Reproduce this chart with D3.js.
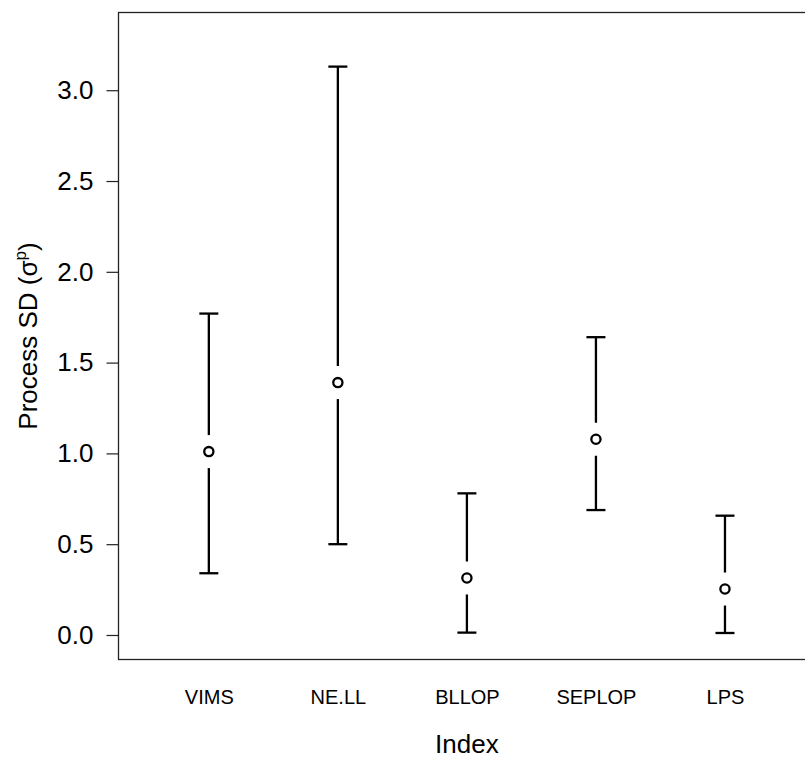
<!DOCTYPE html>
<html>
<head>
<meta charset="utf-8">
<script src="https://cdn.jsdelivr.net/npm/d3@7"></script>
<style>
  html, body { margin: 0; padding: 0; background: #fff; }
  svg { display: block; }
  text { font-family: "Liberation Sans", Arial, sans-serif; fill: #000; }
</style>
</head>
<body>
<svg id="chart" width="805" height="762"></svg>
<script>
const categories = ["VIMS", "NE.LL", "BLLOP", "SEPLOP", "LPS"];
const estimates  = [1.01, 1.39, 0.314, 1.078, 0.253];
const lower      = [0.34, 0.50, 0.013, 0.688, 0.011];
const upper      = [1.77, 3.13, 0.78, 1.64, 0.657];
const yTicks     = [0.0, 0.5, 1.0, 1.5, 2.0, 2.5, 3.0];

const svg = d3.select("#chart");
const mLeft = 118.5, mRight = 815.3, mTop = 12.5, mBottom = 659.5;

const x = d3.scaleLinear().domain([0.3, 5.7]).range([mLeft, mRight]);
const y = d3.scaleLinear().domain([-0.135, 3.428]).range([mBottom, mTop]);

// plot box
svg.append("rect")
  .attr("x", mLeft).attr("y", mTop)
  .attr("width", mRight - mLeft).attr("height", mBottom - mTop)
  .attr("fill", "none").attr("stroke", "#222").attr("stroke-width", 1.3);

// y axis
const yAxis = svg.append("g")
  .attr("transform", `translate(${mLeft},0)`)
  .call(d3.axisLeft(y).tickValues(yTicks).tickFormat(d3.format(".1f")).tickSize(12).tickPadding(13));
yAxis.select(".domain").remove();
yAxis.selectAll(".tick line").attr("stroke", "#222").attr("stroke-width", 1.2);
yAxis.selectAll(".tick text")
  .attr("font-size", 26)
  .attr("font-family", "'Liberation Sans', Arial, sans-serif")
  .attr("fill", "#000");

// x labels (no ticks)
const xAxis = svg.append("g")
  .attr("transform", `translate(0,${mBottom})`)
  .call(d3.axisBottom(x).tickValues(categories.map((d, i) => i + 1))
        .tickFormat((d, i) => categories[i]).tickSize(0).tickPadding(30));
xAxis.select(".domain").remove();
xAxis.selectAll(".tick text")
  .attr("font-size", 20)
  .attr("font-family", "'Liberation Sans', Arial, sans-serif")
  .attr("fill", "#000");

// axis titles
svg.append("text")
  .attr("x", x(3)).attr("y", 753)
  .attr("text-anchor", "middle").attr("font-size", 26)
  .text("Index");

const yt = svg.append("text")
  .attr("transform", `translate(37,${(mTop + mBottom) / 2}) rotate(-90)`)
  .attr("text-anchor", "middle").attr("font-size", 26);
yt.append("tspan").text("Process SD (σ");
yt.append("tspan").attr("font-size", 17).attr("dy", -11).text("p");
yt.append("tspan").attr("dy", 11).text(")");

// error bars
const gap = 16.5, capHalf = 9.5;
const data = categories.map((c, i) => ({ i: i + 1, est: estimates[i], lo: lower[i], hi: upper[i] }));
const g = svg.append("g");
g.selectAll(".upper").data(data).join("line")
  .attr("x1", d => x(d.i)).attr("x2", d => x(d.i))
  .attr("y1", d => y(d.hi)).attr("y2", d => y(d.est) - gap)
  .attr("stroke", "#000").attr("stroke-width", 2.3);
g.selectAll(".lower").data(data).join("line")
  .attr("x1", d => x(d.i)).attr("x2", d => x(d.i))
  .attr("y1", d => y(d.est) + gap).attr("y2", d => y(d.lo))
  .attr("stroke", "#000").attr("stroke-width", 2.3);
g.selectAll(".capHi").data(data).join("line")
  .attr("x1", d => x(d.i) - capHalf).attr("x2", d => x(d.i) + capHalf)
  .attr("y1", d => y(d.hi)).attr("y2", d => y(d.hi))
  .attr("stroke", "#000").attr("stroke-width", 2.3);
g.selectAll(".capLo").data(data).join("line")
  .attr("x1", d => x(d.i) - capHalf).attr("x2", d => x(d.i) + capHalf)
  .attr("y1", d => y(d.lo)).attr("y2", d => y(d.lo))
  .attr("stroke", "#000").attr("stroke-width", 2.3);
g.selectAll("circle").data(data).join("circle")
  .attr("cx", d => x(d.i)).attr("cy", d => y(d.est)).attr("r", 4.6)
  .attr("fill", "#fff").attr("stroke", "#000").attr("stroke-width", 2.3);
</script>
</body>
</html>
